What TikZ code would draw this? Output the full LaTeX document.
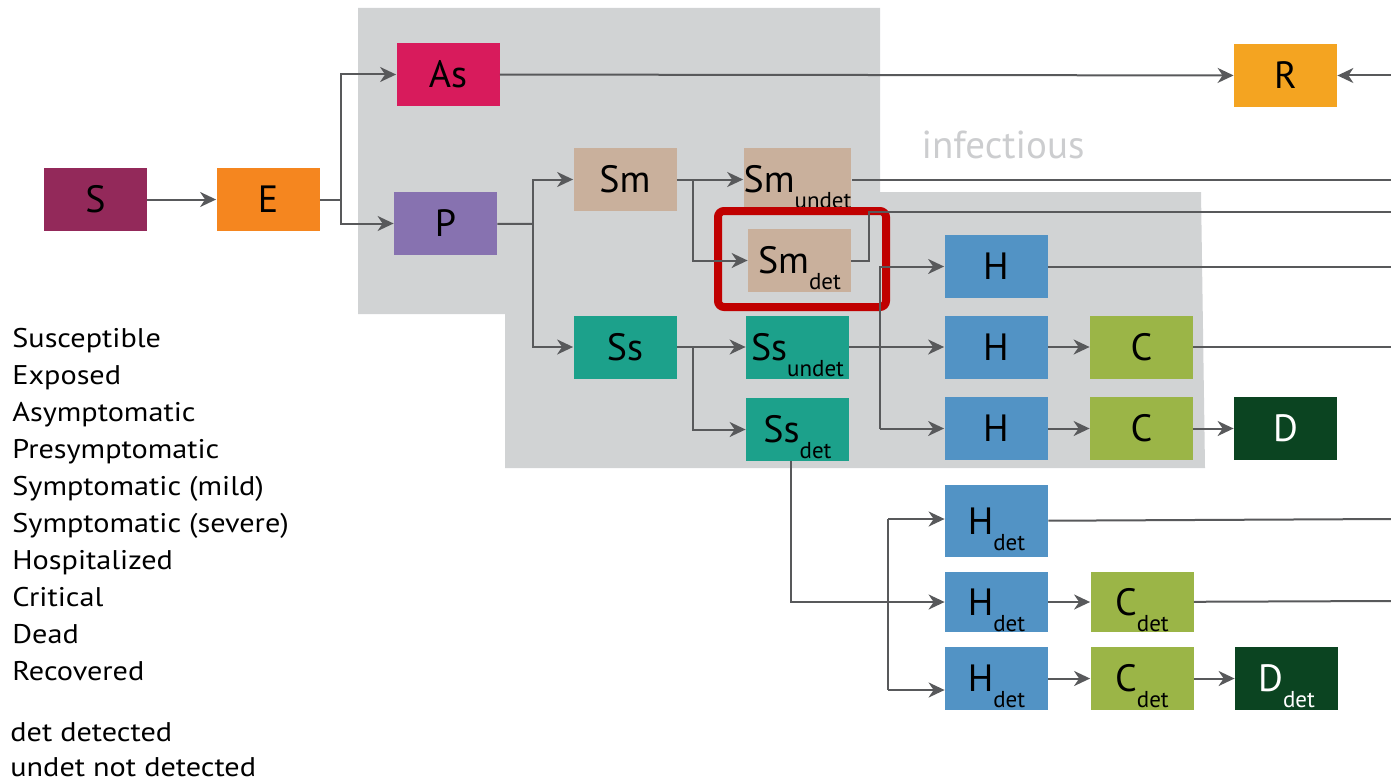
\documentclass[tikz,border=0pt]{standalone}
\usepackage{fontspec}
\setmainfont{PT Sans}
\newfontfamily\legfont{PT Sans}[FakeStretch=1.12]
\usetikzlibrary{arrows.meta}
\definecolor{cS}{RGB}{147,41,90}
\definecolor{cE}{RGB}{245,134,31}
\definecolor{cAs}{RGB}{216,27,92}
\definecolor{cP}{RGB}{135,114,176}
\definecolor{cSm}{RGB}{201,176,156}
\definecolor{cSs}{RGB}{28,161,139}
\definecolor{cH}{RGB}{82,147,197}
\definecolor{cC}{RGB}{155,181,71}
\definecolor{cD}{RGB}{11,68,33}
\definecolor{cR}{RGB}{244,164,33}
\definecolor{greg}{RGB}{209,211,212}
\definecolor{lgray}{RGB}{88,89,91}
\definecolor{hred}{RGB}{192,0,0}
\definecolor{inftxt}{RGB}{204,205,207}
\newcommand\lowsub[1]{\raisebox{-0.42em}[0pt][0pt]{\fontsize{11.5pt}{11.5pt}\selectfont #1}}
\tikzset{
  box/.style={minimum width=51.5pt, minimum height=31.5pt, inner sep=0pt, draw=none,
    font=\fontsize{19pt}{19pt}\selectfont, text=black},
  wire/.style={draw=lgray, line width=1pt},
  conn/.style={wire, -{Stealth[length=8pt,width=7.5pt,inset=2.5pt]}},
  legend/.style={anchor=base west, inner sep=0pt, font=\legfont\fontsize{13.5pt}{13.5pt}\selectfont}
}
\begin{document}
\begin{tikzpicture}[x=0.5pt,y=-0.5pt]
\useasboundingbox (0,0) rectangle (1391,781);
% grey infectious region
\fill[greg] (358,8) -- (880,8) -- (880,192) -- (1201,192) -- (1205,468) -- (505,468) -- (505,314) -- (358,314) -- cycle;
\node[inner sep=0pt, text=inftxt, font=\fontsize{19.5pt}{19.5pt}\selectfont] (inf) at (1003,145) {infectious};

% nodes
\node[box, fill=cS] (S) at (95.5,199.5) {S};
\node[box, fill=cE] (E) at (268,199.5) {E};
\node[box, fill=cAs] (As) at (448,74.5) {As};
\node[box, fill=cP] (P) at (445.5,223.5) {P};
\node[box, fill=cSm] (Sm) at (625,179.5) {Sm};
\node[box, fill=cSm] (SmU) at (797.5,179.5) {Sm\lowsub{undet}};
\node[box, fill=cSm] (SmD) at (799.5,260.5) {Sm\lowsub{det}};
\node[box, fill=cSs] (Ss) at (625,347) {Ss};
\node[box, fill=cSs] (SsU) at (797.5,347) {Ss\lowsub{undet}};
\node[box, fill=cSs] (SsD) at (797.5,429.5) {Ss\lowsub{det}};
\node[box, fill=cH] (H1) at (996,266.5) {H};
\node[box, fill=cH] (H2) at (996,347) {H};
\node[box, fill=cH] (H3) at (996,428.5) {H};
\node[box, fill=cC] (C2) at (1141.5,347) {C};
\node[box, fill=cC] (C3) at (1141.5,428.5) {C};
\node[box, fill=cD, text=white] (D) at (1285.5,428.5) {D};
\node[box, fill=cR] (R) at (1285.5,75.5) {R};
\node[box, fill=cH, minimum height=36pt] (Hd1) at (996.5,521) {H\lowsub{det}};
\node[box, fill=cH, minimum height=30pt] (Hd2) at (996.5,602) {H\lowsub{det}};
\node[box, fill=cH] (Hd3) at (996.5,678.5) {H\lowsub{det}};
\node[box, fill=cC, minimum height=30pt] (Cd2) at (1142,602) {C\lowsub{det}};
\node[box, fill=cC] (Cd3) at (1142,678.5) {C\lowsub{det}};
\node[box, fill=cD, text=white] (Dd3) at (1286.5,678.5) {D\lowsub{det}};

% highlight
\draw[hred, line width=4pt, rounded corners=3pt] (718,211) rectangle (886,307);

% junctions and free ends
\coordinate (jE) at (341,199.5);
\coordinate (jP) at (533,224);
\coordinate (jSm) at (693,179.5);
\coordinate (jSs) at (693,347);
\coordinate (jSmD) at (869,260.5);
\coordinate (hb) at (880,428.5);
\coordinate (sdb) at (791,461);
\coordinate (hdt) at (888,519);
\coordinate (hdb) at (888,690);
\coordinate (rR) at (1391,75.5);
\coordinate (oSmU) at (1391,179.5);
\coordinate (oSmD) at (1391,212);
\coordinate (oH1) at (1391,266.5);
\coordinate (oC2) at (1391,347);
\coordinate (oHd1) at (1391,519);
\coordinate (oCd2) at (1391,601);

% connectors
\draw[conn] (S) -- (E);
\draw[wire] (E) -- (jE);
\draw[conn] (jE) |- (As);
\draw[conn] (jE) |- (P);
\draw[conn] (As) -- (R);
\draw[conn] (rR) -- (R);
\draw[wire] (P) -- (jP);
\draw[conn] (jP) |- (Sm);
\draw[conn] (jP) |- (Ss);
\draw[wire] (Sm) -- (jSm);
\draw[conn] (jSm) |- (SmU);
\draw[conn] (jSm) |- (SmD);
\draw[wire] (SmU) -- (oSmU);
\draw[wire] (SmD) -- (jSmD) |- (oSmD);
\draw[wire] (Ss) -- (jSs);
\draw[conn] (jSs) |- (SsU);
\draw[conn] (jSs) |- (SsD);
\draw[conn] (SsU) -- (H2);
\draw[conn] (hb) |- (H1);
\draw[conn] (hb) -- (H3);
\draw[wire] (H1) -- (oH1);
\draw[conn] (H2) -- (C2);
\draw[wire] (C2) -- (oC2);
\draw[conn] (H3) -- (C3);
\draw[conn] (C3) -- (D);
\draw[conn] (sdb) |- (Hd2);
\draw[wire] (hdt) -- (hdb);
\draw[conn] (hdt) -- (hdt -| Hd1.west);
\draw[conn] (hdb) -- (hdb -| Hd3.west);
\draw[wire] (Hd1) -- (oHd1);
\draw[conn] (Hd2) -- (Cd2);
\draw[wire] (Cd2) -- (oCd2);
\draw[conn] (Hd3) -- (Cd3);
\draw[conn] (Cd3) -- (Dd3);

% legend
\node[legend] (l1) at (12,347) {Susceptible};
\node[legend] (l2) at (12,384) {Exposed};
\node[legend] (l3) at (12,421) {Asymptomatic};
\node[legend] (l4) at (12,458) {Presymptomatic};
\node[legend] (l5) at (12,495) {Symptomatic (mild)};
\node[legend] (l6) at (12,532) {Symptomatic (severe)};
\node[legend] (l7) at (12,569) {Hospitalized};
\node[legend] (l8) at (12,606) {Critical};
\node[legend] (l9) at (12,643) {Dead};
\node[legend] (l10) at (12,680) {Recovered};
\node[legend] (l11) at (10,741) {det detected};
\node[legend] (l12) at (10,776) {undet not detected};
\end{tikzpicture}
\end{document}
